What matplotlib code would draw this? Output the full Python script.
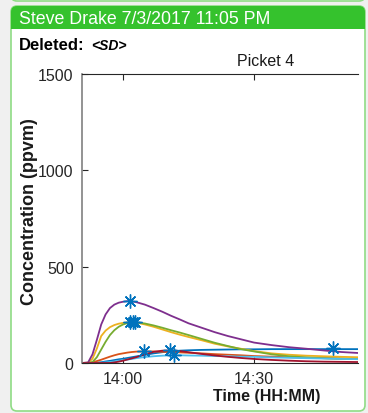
import numpy as np
import matplotlib.pyplot as plt
from matplotlib.patches import FancyBboxPatch

plt.rcParams['font.family'] = ['Liberation Sans', 'DejaVu Sans']

# minutes relative to 14:00
t = [-9.4, -8, -7, -6, -5, -4, -3, -2, -1, 0, 1, 2, 3, 5, 7, 9, 11, 13, 15, 18,
     21, 24, 27, 30, 34, 38, 42, 46, 50, 53.8]

blue = [0, 0, 0, 2, 4, 8, 11, 15, 19, 22, 26, 30, 34, 42, 50, 56, 61, 64, 66, 68,
        69, 70, 71, 71, 72, 72, 72, 72, 72, 72]
redorange = [0, 0, 4, 10, 17, 25, 33, 40, 46, 50, 54, 57, 59, 60, 60, 58, 57, 55, 53, 50,
             46, 43, 40, 36, 33, 30, 27, 25, 23, 21]
yellow = [0, 2, 22, 75, 140, 168, 186, 197, 204, 208, 211, 212, 210, 200, 188, 174, 160, 147, 135, 118,
          100, 86, 74, 62, 50, 43, 38, 35, 32, 30]
purple = [0, 3, 45, 120, 200, 252, 285, 303, 313, 318, 321, 320, 316, 303, 285, 266, 245, 226, 206, 183,
          160, 140, 123, 106, 93, 82, 74, 65, 57, 52]
green = [0, 0, 5, 30, 70, 110, 145, 170, 188, 200, 207, 211, 211, 205, 195, 183, 170, 158, 145, 125,
         105, 88, 72, 60, 45, 35, 29, 25, 22, 20]
lightblue = [0, 0, 0, 0, 1, 3, 5, 8, 12, 15, 18, 21, 25, 31, 35, 38, 40, 40, 39, 38,
             36, 35, 33, 32, 29, 27, 25, 23, 21, 20]
darkred = [0, 0, 0, 0, 0, 0, 0, 3, 7, 12, 18, 24, 30, 45, 58, 64, 65, 62, 56, 47,
           39, 32, 26, 21, 16, 12, 9, 7, 6, 5]

series = [blue, redorange, yellow, purple, green, lightblue, darkred]
colors = ['#0072BD', '#D95319', '#EDB120', '#7E2F8E', '#77AC30', '#4DBEEE', '#A2142F']

# peak markers
peak_t = [1.6, 1.6, 2.3, 2.7, 4.8, 10.8, 11.7, 48.1]
peak_v = [320, 212, 213, 212, 60, 65, 40, 76]

xticks = [0, 30]
xticklabels = ['14:00', '14:30']
yticks = [0, 500, 1000, 1500]

W, H = 368, 414
fig = plt.figure(figsize=(W / 100, H / 100), dpi=100)
fig.patch.set_facecolor('#f0f0f0')

# card background
bg = fig.add_axes([0, 0, 1, 1])
bg.set_xlim(0, W)
bg.set_ylim(H, 0)
bg.axis('off')
bg.add_patch(FancyBboxPatch((11, 7), 354, 405, boxstyle='round,pad=0,rounding_size=6',
                            facecolor='white', edgecolor='#8fdc85', lw=1.2))
bg.add_patch(FancyBboxPatch((11, 7), 354, 23, boxstyle='round,pad=0,rounding_size=6',
                            facecolor='#35c22d', edgecolor='none'))
bg.add_patch(plt.Rectangle((11, 20), 354, 10, facecolor='#35c22d', edgecolor='none'))
# bottom of previous card
bg.add_patch(FancyBboxPatch((11, -20), 354, 22, boxstyle='round,pad=0,rounding_size=6',
                            facecolor='white', edgecolor='#8fdc85', lw=1.2))
bg.text(19, 19, 'Steve Drake 7/3/2017 11:05 PM', color='white', fontsize=12.8,
        va='center', ha='left')
bg.text(19, 45, 'Deleted:', fontsize=12, fontweight='bold', va='center', ha='left')
bg.text(91, 46, '<SD>', fontsize=10, fontweight='bold', style='italic', va='center', ha='left')
bg.text(266, 62, 'Picket 4', fontsize=11.5, va='center', ha='center', color='#1a1a1a')

ax = fig.add_axes([82 / W, 1 - 364 / H, (358 - 82) / W, (364 - 75) / H])
for vals, c in zip(series, colors):
    ax.plot(t, vals, color=c, lw=1.3)
ax.plot(peak_t, peak_v, linestyle='none', marker=(8, 2, 0), markersize=10,
        markeredgecolor='#0072BD', markeredgewidth=1.0)

ax.set_xlim(-9.4, 53.8)
ax.set_ylim(0, 1500)
ax.set_xticks(xticks)
ax.set_xticklabels(xticklabels)
ax.set_yticks(yticks)
ax.tick_params(direction='in', length=4, width=0.8, colors='#262626',
               labelsize=11.5, top=True, right=False, pad=6)
ax.spines['right'].set_visible(False)
for s in ['left', 'top', 'bottom']:
    ax.spines[s].set_color('#262626')
    ax.spines[s].set_linewidth(0.8)
ax.spines['left'].set_color('#808080')
ax.spines['left'].set_linewidth(1.2)

ax.set_ylabel('Concentration (ppvm)', fontsize=13, fontweight='bold', color='#1a1a1a',
              va='center')
ax.yaxis.set_label_coords((29.5 - 82) / (358 - 82), (364 - 212) / (364 - 75))
ax.set_xlabel('Time (HH:MM)', fontsize=11.5, fontweight='bold', color='#1a1a1a')
ax.xaxis.set_label_coords((267 - 82) / (358 - 82), -0.085)

fig.savefig('out.png', dpi=100, facecolor=fig.get_facecolor())
